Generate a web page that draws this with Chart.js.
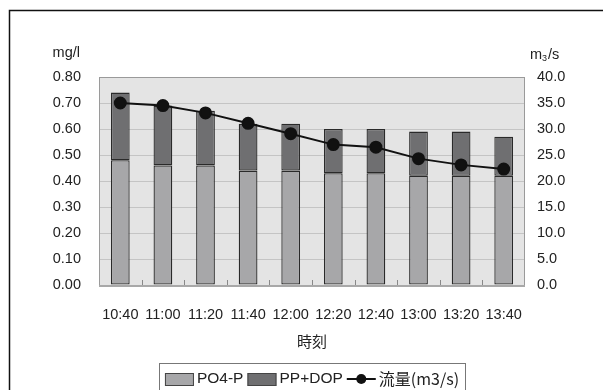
<!DOCTYPE html>
<html>
<head>
<meta charset="utf-8">
<script src="https://cdn.jsdelivr.net/npm/chart.js@4.4.1/dist/chart.umd.min.js"></script>
<style>
  html, body { margin: 0; padding: 0; background: #fff; }
  #wrap { width: 603px; height: 390px; }
</style>
</head>
<body>
<div id="wrap"><canvas id="pChart"></canvas></div>
<script>
// 時刻ごとのリン濃度 (mg/l) と流量 (m3/s)
const times = ['10:40', '11:00', '11:20', '11:40', '12:00', '12:20', '12:40', '13:00', '13:20', '13:40'];
const po4p  = [0.48, 0.46, 0.46, 0.44, 0.44, 0.43, 0.43, 0.42, 0.42, 0.42];
const ppdop = [0.26, 0.23, 0.21, 0.18, 0.18, 0.17, 0.17, 0.17, 0.17, 0.15];
const flow  = [35.0, 34.5, 33.1, 31.1, 29.1, 27.0, 26.5, 24.3, 23.1, 22.3];

const numFont = "'Liberation Sans', Arial, sans-serif";
const jpFont = "'Noto Sans CJK JP', sans-serif";
const fs = 14.5;
const textColor = '#222';

// 外枠・プロット背景・目盛・単位・凡例を描く
const decor = {
  id: 'decor',
  beforeDraw(chart) {
    const { ctx, chartArea: a } = chart;
    ctx.save();
    ctx.fillStyle = '#fff';
    ctx.fillRect(0, 0, chart.width, chart.height);
    ctx.fillStyle = '#e4e4e4';
    ctx.fillRect(a.left, a.top, a.right - a.left, a.bottom - a.top);
    // 外枠
    ctx.strokeStyle = '#111';
    ctx.lineWidth = 1.5;
    ctx.beginPath();
    ctx.moveTo(9.5, chart.height + 5);
    ctx.lineTo(9.5, 10.5);
    ctx.lineTo(chart.width + 5, 10.5);
    ctx.stroke();
    ctx.restore();
  },
  beforeDatasetsDraw(chart) {
    const { ctx, chartArea: a, scales } = chart;
    ctx.save();
    ctx.strokeStyle = '#9a9a9a';
    ctx.lineWidth = 1;
    ctx.strokeRect(a.left + 0.5, a.top + 0.5, a.right - a.left - 1, a.bottom - a.top);
    // 区切りの目盛 (内向き)
    const x = scales.x;
    ctx.strokeStyle = '#888';
    ctx.beginPath();
    for (let i = 1; i < times.length; i++) {
      const px = Math.round((x.getPixelForValue(i - 1) + x.getPixelForValue(i)) / 2) + 0.5;
      ctx.moveTo(px, a.bottom);
      ctx.lineTo(px, a.bottom - 5);
    }
    ctx.stroke();
    ctx.strokeStyle = '#a8a8a8';
    ctx.lineWidth = 2;
    ctx.beginPath();
    ctx.moveTo(a.left, a.bottom + 1);
    ctx.lineTo(a.right, a.bottom + 1);
    ctx.stroke();
    ctx.restore();
  },
  afterDraw(chart) {
    const { ctx, chartArea: a } = chart;
    ctx.save();
    ctx.fillStyle = textColor;
    ctx.textBaseline = 'middle';

    // 軸の単位
    ctx.font = `${fs}px ${numFont}`;
    ctx.textAlign = 'right';
    ctx.fillText('mg/l', 80, 53);
    ctx.textAlign = 'left';
    let ux = 530;
    ctx.fillText('m', ux, 55);
    ux += ctx.measureText('m').width;
    ctx.font = `9px ${numFont}`;
    ctx.fillText('3', ux, 59);
    ux += ctx.measureText('3').width + 1;
    ctx.font = `${fs}px ${numFont}`;
    ctx.fillText('/s', ux, 55);

    // x軸タイトル
    ctx.font = `15px ${jpFont}`;
    ctx.textAlign = 'center';
    ctx.fillText('時刻', (a.left + a.right) / 2, 341);

    // 凡例
    const items = chart.data.datasets.map(ds => ({
      ds,
      font: ds.type === 'line' ? `16px ${jpFont}` : `15.5px ${numFont}`
    }));
    const sw = 29, gap = 3, itemGap = 4, pad = 6;
    let total = 0;
    items.forEach(it => {
      ctx.font = it.font;
      it.w = ctx.measureText(it.ds.label).width;
      total += sw + gap + it.w;
    });
    total += itemGap * (items.length - 1);
    let lx = (a.left + a.right) / 2 - total / 2;
    const top = 363, cy = 379;
    ctx.strokeStyle = '#777';
    ctx.lineWidth = 1;
    ctx.strokeRect(Math.round(lx - pad) + 0.5, top + 0.5, Math.round(total + pad * 2), 40);
    ctx.textAlign = 'left';
    items.forEach(it => {
      const ds = it.ds;
      if (ds.type === 'line') {
        ctx.strokeStyle = ds.borderColor;
        ctx.lineWidth = 2;
        ctx.beginPath();
        ctx.moveTo(lx, cy);
        ctx.lineTo(lx + sw, cy);
        ctx.stroke();
        ctx.fillStyle = ds.pointBackgroundColor;
        ctx.beginPath();
        ctx.arc(lx + sw / 2, cy, 5, 0, Math.PI * 2);
        ctx.fill();
      } else {
        ctx.fillStyle = ds.backgroundColor;
        ctx.fillRect(lx, cy - 6, sw, 13);
        ctx.strokeStyle = '#444';
        ctx.lineWidth = 1;
        ctx.strokeRect(lx + 0.5, cy - 6 + 0.5, sw - 1, 12);
      }
      lx += sw + gap;
      ctx.font = it.font;
      ctx.fillStyle = textColor;
      ctx.fillText(ds.label, lx, cy);
      lx += it.w + itemGap;
    });
    ctx.restore();
  }
};

new Chart(document.getElementById('pChart'), {
  data: {
    labels: times,
    datasets: [
      {
        type: 'bar',
        label: 'PO4-P',
        data: po4p,
        backgroundColor: '#a7a7a9',
        borderColor: '#2a2a2a',
        borderWidth: 1.3,
        borderSkipped: false,
        categoryPercentage: 0.44,
        barPercentage: 1,
        yAxisID: 'y',
        order: 1
      },
      {
        type: 'bar',
        label: 'PP+DOP',
        data: ppdop,
        backgroundColor: '#6f6f71',
        borderColor: '#2a2a2a',
        borderWidth: 1.3,
        borderSkipped: false,
        categoryPercentage: 0.44,
        barPercentage: 1,
        yAxisID: 'y',
        order: 1
      },
      {
        type: 'line',
        label: '流量(m3/s)',
        data: flow,
        borderColor: '#111',
        borderWidth: 2,
        pointBackgroundColor: '#111',
        pointBorderColor: '#111',
        pointRadius: 5.5,
        tension: 0,
        yAxisID: 'y1',
        order: 0
      }
    ]
  },
  options: {
    responsive: true,
    maintainAspectRatio: false,
    animation: false,
    layout: { padding: { top: 77, left: 0, right: 0, bottom: 0 } },
    plugins: {
      legend: { display: false },
      tooltip: { enabled: false }
    },
    scales: {
      x: {
        stacked: true,
        grid: { display: false, drawTicks: false },
        border: { display: false },
        ticks: {
          color: textColor,
          font: { family: numFont, size: fs },
          padding: 21,
          maxRotation: 0,
          autoSkip: false
        },
        afterFit: s => { s.height = 105; }
      },
      y: {
        position: 'left',
        stacked: true,
        min: 0,
        max: 0.8,
        grid: { color: '#c4c4c4', drawTicks: false },
        border: { display: false },
        ticks: {
          stepSize: 0.1,
          color: textColor,
          font: { family: numFont, size: fs },
          padding: 18,
          callback: v => v.toFixed(2)
        },
        afterFit: s => { s.width = 99; }
      },
      y1: {
        position: 'right',
        min: 0,
        max: 40,
        grid: { display: false, drawTicks: false },
        border: { display: false },
        ticks: {
          stepSize: 5,
          color: textColor,
          font: { family: numFont, size: fs },
          padding: 12,
          callback: v => v.toFixed(1)
        },
        afterFit: s => { s.width = 78; }
      }
    }
  },
  plugins: [decor]
});
</script>
</body>
</html>
